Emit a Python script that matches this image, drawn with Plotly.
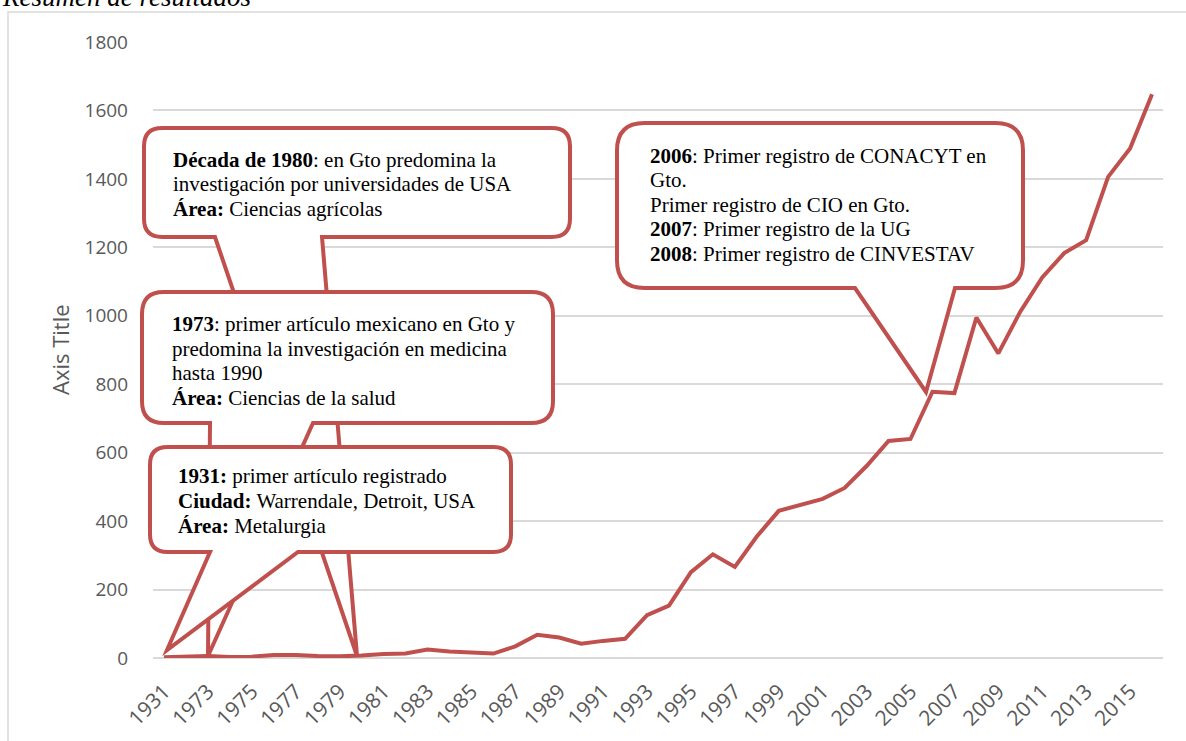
import plotly.graph_objects as go

# categories and values
years = ['1931', '1972', '1973', '1974', '1975', '1976', '1977', '1978', '1979', '1980',
         '1981', '1982', '1983', '1984', '1985', '1986', '1987', '1988', '1989', '1990',
         '1991', '1992', '1993', '1994', '1995', '1996', '1997', '1998', '1999', '2000',
         '2001', '2002', '2003', '2004', '2005', '2006', '2007', '2008', '2009', '2010',
         '2011', '2012', '2013', '2014', '2015', '2016']
articles = [2, 3, 6, 3, 4, 9, 9, 6, 5, 7,
            12, 13, 25, 19, 16, 13, 34, 68, 60, 42,
            50, 56, 125, 153, 251, 303, 266, 355, 430, 447,
            465, 497, 561, 634, 640, 778, 774, 995, 890, 1012,
            1112, 1183, 1221, 1406, 1489, 1647]

note_1980 = ['<b>Década de 1980</b>: en Gto predomina la',
             'investigación por universidades de USA',
             '<b>Área:</b> Ciencias agrícolas']
note_1973 = ['<b>1973</b>: primer artículo mexicano en Gto y',
             'predomina la investigación en medicina',
             'hasta 1990',
             '<b>Área:</b> Ciencias de la salud']
note_1931 = ['<b>1931:</b> primer artículo registrado',
             '<b>Ciudad:</b> Warrendale, Detroit, USA',
             '<b>Área:</b> Metalurgia']
note_2006 = ['<b>2006</b>: Primer registro de CONACYT en',
             'Gto.',
             'Primer registro de CIO en Gto.',
             '<b>2007</b>: Primer registro de la UG',
             '<b>2008</b>: Primer registro de CINVESTAV']

RED = '#C0504D'
GRID = '#D9D9D9'
GREY = '#595959'

W, H = 1186, 741
L, R, T, B = 153, 1163, 42, 658


def px(x):
    return (x - L) / (R - L)


def py(y):
    return (B - y) / (B - T)


def callout(x0, y0, x1, y1, bl, br, tip):
    r = min(x1 - x0, y1 - y0) / 6
    pts = [
        ('M', x0 + r, y0), ('L', x1 - r, y0), ('Q', x1, y0, x1, y0 + r),
        ('L', x1, y1 - r), ('Q', x1, y1, x1 - r, y1),
        ('L', br, y1), ('L', tip[0], tip[1]), ('L', bl, y1),
        ('L', x0 + r, y1), ('Q', x0, y1, x0, y1 - r),
        ('L', x0, y0 + r), ('Q', x0, y0, x0 + r, y0),
    ]
    path = ''
    for p in pts:
        cmd, c = p[0], p[1:]
        coords = ' '.join(f'{px(c[i]):.5f},{py(c[i + 1]):.5f}' for i in range(0, len(c), 2))
        path += f'{cmd} {coords} '
    return dict(type='path', xref='paper', yref='paper', path=path + 'Z',
                line=dict(color=RED, width=4), fillcolor='white', layer='above')


def note_lines(lines, x, first_base, step=24.5):
    out = []
    for k, txt in enumerate(lines):
        base = first_base + k * step
        out.append(dict(xref='paper', yref='paper', x=px(x), y=py(base - 7),
                        xanchor='left', yanchor='middle', showarrow=False, text=txt,
                        font=dict(family='Liberation Serif', size=21, color='black')))
    return out


fig = go.Figure()
fig.add_trace(go.Scatter(
    x=list(range(len(years))), y=articles, mode='lines',
    line=dict(color=RED, width=4), hoverinfo='skip', showlegend=False,
))

shapes = [
    dict(type='rect', xref='paper', yref='paper', x0=px(8), x1=px(1200), y0=py(760), y1=py(12),
         line=dict(color=GRID, width=1.5), fillcolor='rgba(0,0,0,0)', layer='below'),
    callout(144, 128, 570, 237, 215, 322, (357, 656)),
    callout(142, 292, 553, 423, 210, 313, (208, 656)),
    callout(150, 447, 511, 552, 210, 298, (167, 650)),
    callout(617, 123, 1023, 288, 855, 955, (926, 392)),
]

annotations = []
annotations += note_lines(note_1980, 171, 167)
annotations += note_lines(note_1973, 170, 331)
annotations += note_lines(note_1931, 176, 483.5)
annotations += note_lines(note_2006, 648, 162.5)
annotations.append(dict(xref='paper', yref='paper', x=px(60), y=0.5, textangle=-90,
                        xanchor='center', yanchor='middle',
                        showarrow=False, text='Axis Title',
                        font=dict(family='Open Sans', size=22, color=GREY)))
# the document title sits above the chart box and is cut by the page top
annotations.append(dict(xref='paper', yref='paper', x=px(0), y=py(14), xanchor='left',
                        yanchor='bottom', showarrow=False, text='<i>Resumen de resultados</i>',
                        font=dict(family='Liberation Serif', size=27, color='black')))

fig.update_layout(
    width=W, height=H,
    margin=dict(l=L, r=W - R, t=T, b=H - B, autoexpand=False),
    paper_bgcolor='white', plot_bgcolor='white',
    shapes=shapes, annotations=annotations,
    xaxis=dict(
        range=[-0.5, len(years) - 0.5],
        tickmode='array',
        tickvals=list(range(0, len(years), 2)),
        ticktext=years[::2],
        tickangle=-45, automargin=False,
        showgrid=False, zeroline=False, showline=False,
        ticks='', ticklabelstandoff=16,
        tickfont=dict(family='Open Sans', size=21, color=GREY),
    ),
    yaxis=dict(
        range=[0, 1800], dtick=200, automargin=False,
        showgrid=True, gridcolor=GRID, gridwidth=1.5,
        zeroline=True, zerolinecolor=GRID, zerolinewidth=1.5,
        showline=False, ticks='', ticklabelstandoff=24,
        tickfont=dict(family='Open Sans', size=19, color=GREY),
    ),
)

fig.write_html('out.html', config={'displayModeBar': False},
               post_script="document.body.style.margin='0';")
